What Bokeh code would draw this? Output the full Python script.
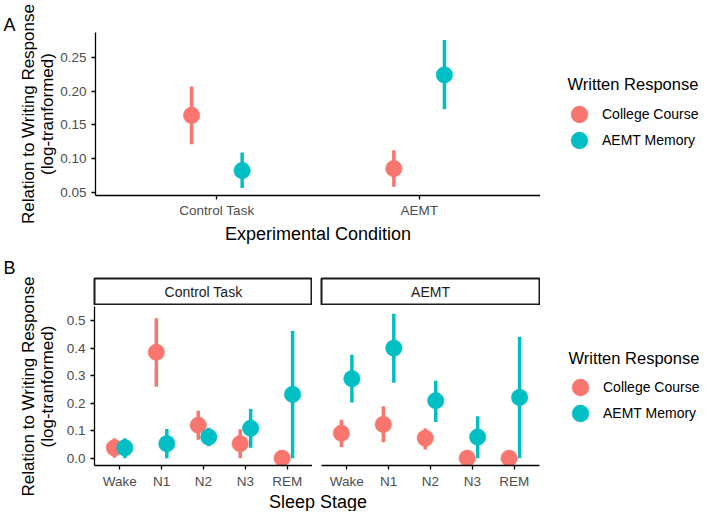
import math
from bokeh.plotting import figure
from bokeh.models import (ColumnDataSource, Range1d, FixedTicker, NumeralTickFormatter,
                          Legend, LegendItem, Label)
from bokeh.layouts import column, row
from bokeh.transform import dodge
from bokeh.embed import file_html
from bokeh.resources import INLINE

FONT = "Liberation Sans"
COLORS = ["#F8766D", "#00BFC4"]
DODGE = [-0.125, 0.125]

# ---------------- data: panel A ----------------
conditions = ["Control Task", "AEMT"]
responses = ["College Course", "AEMT Memory"]
a_college_mean = [0.164, 0.085]
a_college_lo = [0.121, 0.058]
a_college_hi = [0.207, 0.112]
a_memory_mean = [0.082, 0.224]
a_memory_lo = [0.056, 0.173]
a_memory_hi = [0.109, 0.276]
a_yticks = [0.05, 0.10, 0.15, 0.20, 0.25]

# ---------------- data: panel B ----------------
stages = ["Wake", "N1", "N2", "N3", "REM"]
facets = ["Control Task", "AEMT"]
b_ctrl_college_mean = [0.038, 0.385, 0.120, 0.053, 0.0]
b_ctrl_college_lo = [0.002, 0.260, 0.067, 0.0, 0.0]
b_ctrl_college_hi = [0.073, 0.509, 0.173, 0.105, 0.0]
b_ctrl_memory_mean = [0.038, 0.053, 0.077, 0.109, 0.232]
b_ctrl_memory_lo = [0.0, 0.0, 0.044, 0.038, 0.0]
b_ctrl_memory_hi = [0.073, 0.106, 0.111, 0.179, 0.462]
b_aemt_college_mean = [0.091, 0.123, 0.073, 0.0, 0.0]
b_aemt_college_lo = [0.041, 0.058, 0.032, 0.0, 0.0]
b_aemt_college_hi = [0.140, 0.189, 0.109, 0.0, 0.0]
b_aemt_memory_mean = [0.289, 0.400, 0.209, 0.077, 0.221]
b_aemt_memory_lo = [0.203, 0.274, 0.132, 0.0, 0.0]
b_aemt_memory_hi = [0.376, 0.525, 0.282, 0.153, 0.441]
b_yticks = [0.0, 0.1, 0.2, 0.3, 0.4, 0.5]

Y_TITLE_1 = "Relation to Writing Response"
Y_TITLE_2 = "(log-tranformed)"
LEGEND_TITLE = "Written Response"

W_LEFT, W_MAIN, W_RIGHT = 57, 483, 166
H_A, H_STRIP, H_B, H_T = 270, 35, 186, 20
H_TOTAL = H_A + H_STRIP + H_B + H_T
KEY_BOX = 42          # legend key box (marker drawn at 0.4 of it)


def expanded(lows, highs, mult=0.05):
    lo = min(min(l) for l in lows)
    hi = max(max(h) for h in highs)
    pad = (hi - lo) * mult
    return Range1d(lo - pad, hi + pad)


def base_fig(**kw):
    p = figure(output_backend="svg", toolbar_location=None, **kw)
    p.xgrid.visible = False
    p.ygrid.visible = False
    p.outline_line_color = None
    p.background_fill_color = "white"
    p.border_fill_color = "white"
    return p


def blank_fig(width, height, xr=(0, 1), yr=(0, 1), **kw):
    borders = dict(min_border_left=0, min_border_right=0, min_border_top=0, min_border_bottom=0)
    borders.update(kw)
    return base_fig(width=width, height=height, x_range=Range1d(*xr), y_range=Range1d(*yr),
                    x_axis_location=None, y_axis_location=None, **borders)


def style_axis(ax):
    ax.axis_line_color = "black"
    ax.axis_line_width = 1.3
    ax.major_tick_line_color = "black"
    ax.major_tick_line_width = 1.3
    ax.major_tick_out = 4
    ax.major_tick_in = 0
    ax.minor_tick_line_color = None
    ax.major_label_text_font = FONT
    ax.major_label_text_font_size = "13.5px"
    ax.major_label_text_color = "#4D4D4D"
    ax.axis_label_text_font = FONT
    ax.axis_label_text_font_style = "normal"
    ax.axis_label_text_color = "black"


def draw_pointranges(p, xs, series):
    srcs = []
    for (mean, lo, hi), off, col in zip(series, DODGE, COLORS):
        srcs.append((ColumnDataSource(dict(x=xs, mean=mean, lo=lo, hi=hi)), off, col))
    for src, off, col in srcs:
        p.segment(x0=dodge("x", off), y0="lo", x1=dodge("x", off), y1="hi",
                  source=src, line_color=col, line_width=3.5)
    for src, off, col in srcs:
        p.scatter(x=dodge("x", off), y="mean", source=src, marker="circle", size=16.5,
                  fill_color=col, line_color=col, line_width=0.5)


def text_label(p, x, y, text, size, align="center", angle=0.0, color="black", units="data"):
    p.add_layout(Label(x=x, y=y, x_units=units, y_units=units, text=text, angle=angle,
                       text_font=FONT, text_font_size=size, text_color=color,
                       text_align=align, text_baseline="middle"))


def legend_fig(height, title_xy, key_x, key_ys, xs, series_means):
    # The series are plotted here only as legend keys: the ranges lie left of all
    # data, so nothing but the legend itself shows in this column.
    p = blank_fig(W_RIGHT, height, xr=(-1, 0), yr=(-1, 0))
    text_label(p, title_xy[0], height - title_xy[1], LEGEND_TITLE, "16.5px",
               align="left", units="screen")
    for lab, col, means, ky in zip(responses, COLORS, series_means, key_ys):
        r = p.scatter(x=xs, y=means, marker="circle", fill_color=col, line_color=col,
                      line_width=0.5)
        leg = Legend(items=[LegendItem(label=lab, renderers=[r])],
                     location=(key_x - KEY_BOX / 2, height - ky - KEY_BOX / 2))
        leg.label_text_font = FONT
        leg.label_text_font_size = "14px"
        leg.label_text_color = "black"
        leg.glyph_width = KEY_BOX
        leg.glyph_height = KEY_BOX
        leg.label_height = 20
        leg.label_standoff = 2
        leg.padding = 0
        leg.margin = 0
        leg.border_line_color = None
        leg.background_fill_alpha = 0
        p.add_layout(leg)
    return p


# ---------------- panel A ----------------
cond_x = [i + 1 for i in range(len(conditions))]
pA = base_fig(width=W_MAIN, height=H_A,
              x_range=Range1d(0.4, len(conditions) + 0.6),
              y_range=expanded([a_college_lo, a_memory_lo], [a_college_hi, a_memory_hi]),
              min_border_left=37, min_border_right=0, min_border_top=32, min_border_bottom=75)
draw_pointranges(pA, cond_x, [(a_college_mean, a_college_lo, a_college_hi),
                              (a_memory_mean, a_memory_lo, a_memory_hi)])
for ax in pA.xaxis + pA.yaxis:
    style_axis(ax)
pA.xaxis.ticker = FixedTicker(ticks=cond_x)
pA.xaxis.major_label_overrides = {x: c for x, c in zip(cond_x, conditions)}
pA.xaxis.major_label_standoff = 3
pA.xaxis.axis_label = "Experimental Condition"
pA.xaxis.axis_label_text_font_size = "18px"
pA.xaxis.axis_label_standoff = 3
pA.yaxis.ticker = FixedTicker(ticks=a_yticks)
pA.yaxis.formatter = NumeralTickFormatter(format="0.00")
pA.yaxis.major_label_standoff = 5

# ---------------- panel B ----------------
stage_x = [i + 1 for i in range(len(stages))]
b_yrange = expanded([b_ctrl_college_lo, b_ctrl_memory_lo, b_aemt_college_lo, b_aemt_memory_lo],
                    [b_ctrl_college_hi, b_ctrl_memory_hi, b_aemt_college_hi, b_aemt_memory_hi])


def strip(label, width, left, right):
    s = blank_fig(width, H_STRIP, min_border_left=left, min_border_right=right,
                  min_border_top=8, min_border_bottom=1)
    s.outline_line_color = "#1A1A1A"
    s.outline_line_width = 2
    text_label(s, 0.5, 0.5, label, "14px", color="#1A1A1A")
    return s


def facet(width, left, right, show_y, series):
    p = base_fig(width=width, height=H_B, x_range=Range1d(0.4, len(stages) + 0.6), y_range=b_yrange,
                 y_axis_location="left" if show_y else None,
                 min_border_left=left, min_border_right=right, min_border_top=1, min_border_bottom=25)
    draw_pointranges(p, stage_x, series)
    for ax in p.xaxis + p.yaxis:
        style_axis(ax)
    p.xaxis.ticker = FixedTicker(ticks=stage_x)
    p.xaxis.major_label_overrides = {x: s for x, s in zip(stage_x, stages)}
    p.xaxis.major_label_standoff = 4
    if show_y:
        p.yaxis.ticker = FixedTicker(ticks=b_yticks)
        p.yaxis.formatter = NumeralTickFormatter(format="0.0")
        p.yaxis.major_label_standoff = 5
    return p


sL = strip(facets[0], 255, 37, 0)
sR = strip(facets[1], 228, 9, 1)
pBL = facet(255, 37, 0, True, [(b_ctrl_college_mean, b_ctrl_college_lo, b_ctrl_college_hi),
                               (b_ctrl_memory_mean, b_ctrl_memory_lo, b_ctrl_memory_hi)])
pBR = facet(228, 9, 1, False, [(b_aemt_college_mean, b_aemt_college_lo, b_aemt_college_hi),
                               (b_aemt_memory_mean, b_aemt_memory_lo, b_aemt_memory_hi)])

pT = blank_fig(W_MAIN, H_T, min_border_left=37)
text_label(pT, 0.5, 0.5, "Sleep Stage", "18px")

# ---------------- left column: panel tags and y titles ----------------
pL = blank_fig(W_LEFT, H_TOTAL, xr=(0, W_LEFT), yr=(H_TOTAL, 0))
text_label(pL, 3, 24, "A", "18px", align="left")
text_label(pL, 3, 267, "B", "18px", align="left")
for yc in (113.5, 386):
    text_label(pL, 27.5, yc, Y_TITLE_1, "17px", angle=math.pi / 2)
    text_label(pL, 46.5, yc, Y_TITLE_2, "17px", angle=math.pi / 2)

# ---------------- right column: legends ----------------
legA = legend_fig(H_A, (27, 83), 39, (114, 140), cond_x, [a_college_mean, a_memory_mean])
legB = legend_fig(H_STRIP + H_B + H_T, (28, 87), 40, (117, 143), stage_x,
                  [b_ctrl_college_mean, b_ctrl_memory_mean])

main = column(pA, row(column(sL, pBL), column(sR, pBR)), pT)
layout = row(pL, main, column(legA, legB))

open("out.html", "w").write(file_html(layout, INLINE))
